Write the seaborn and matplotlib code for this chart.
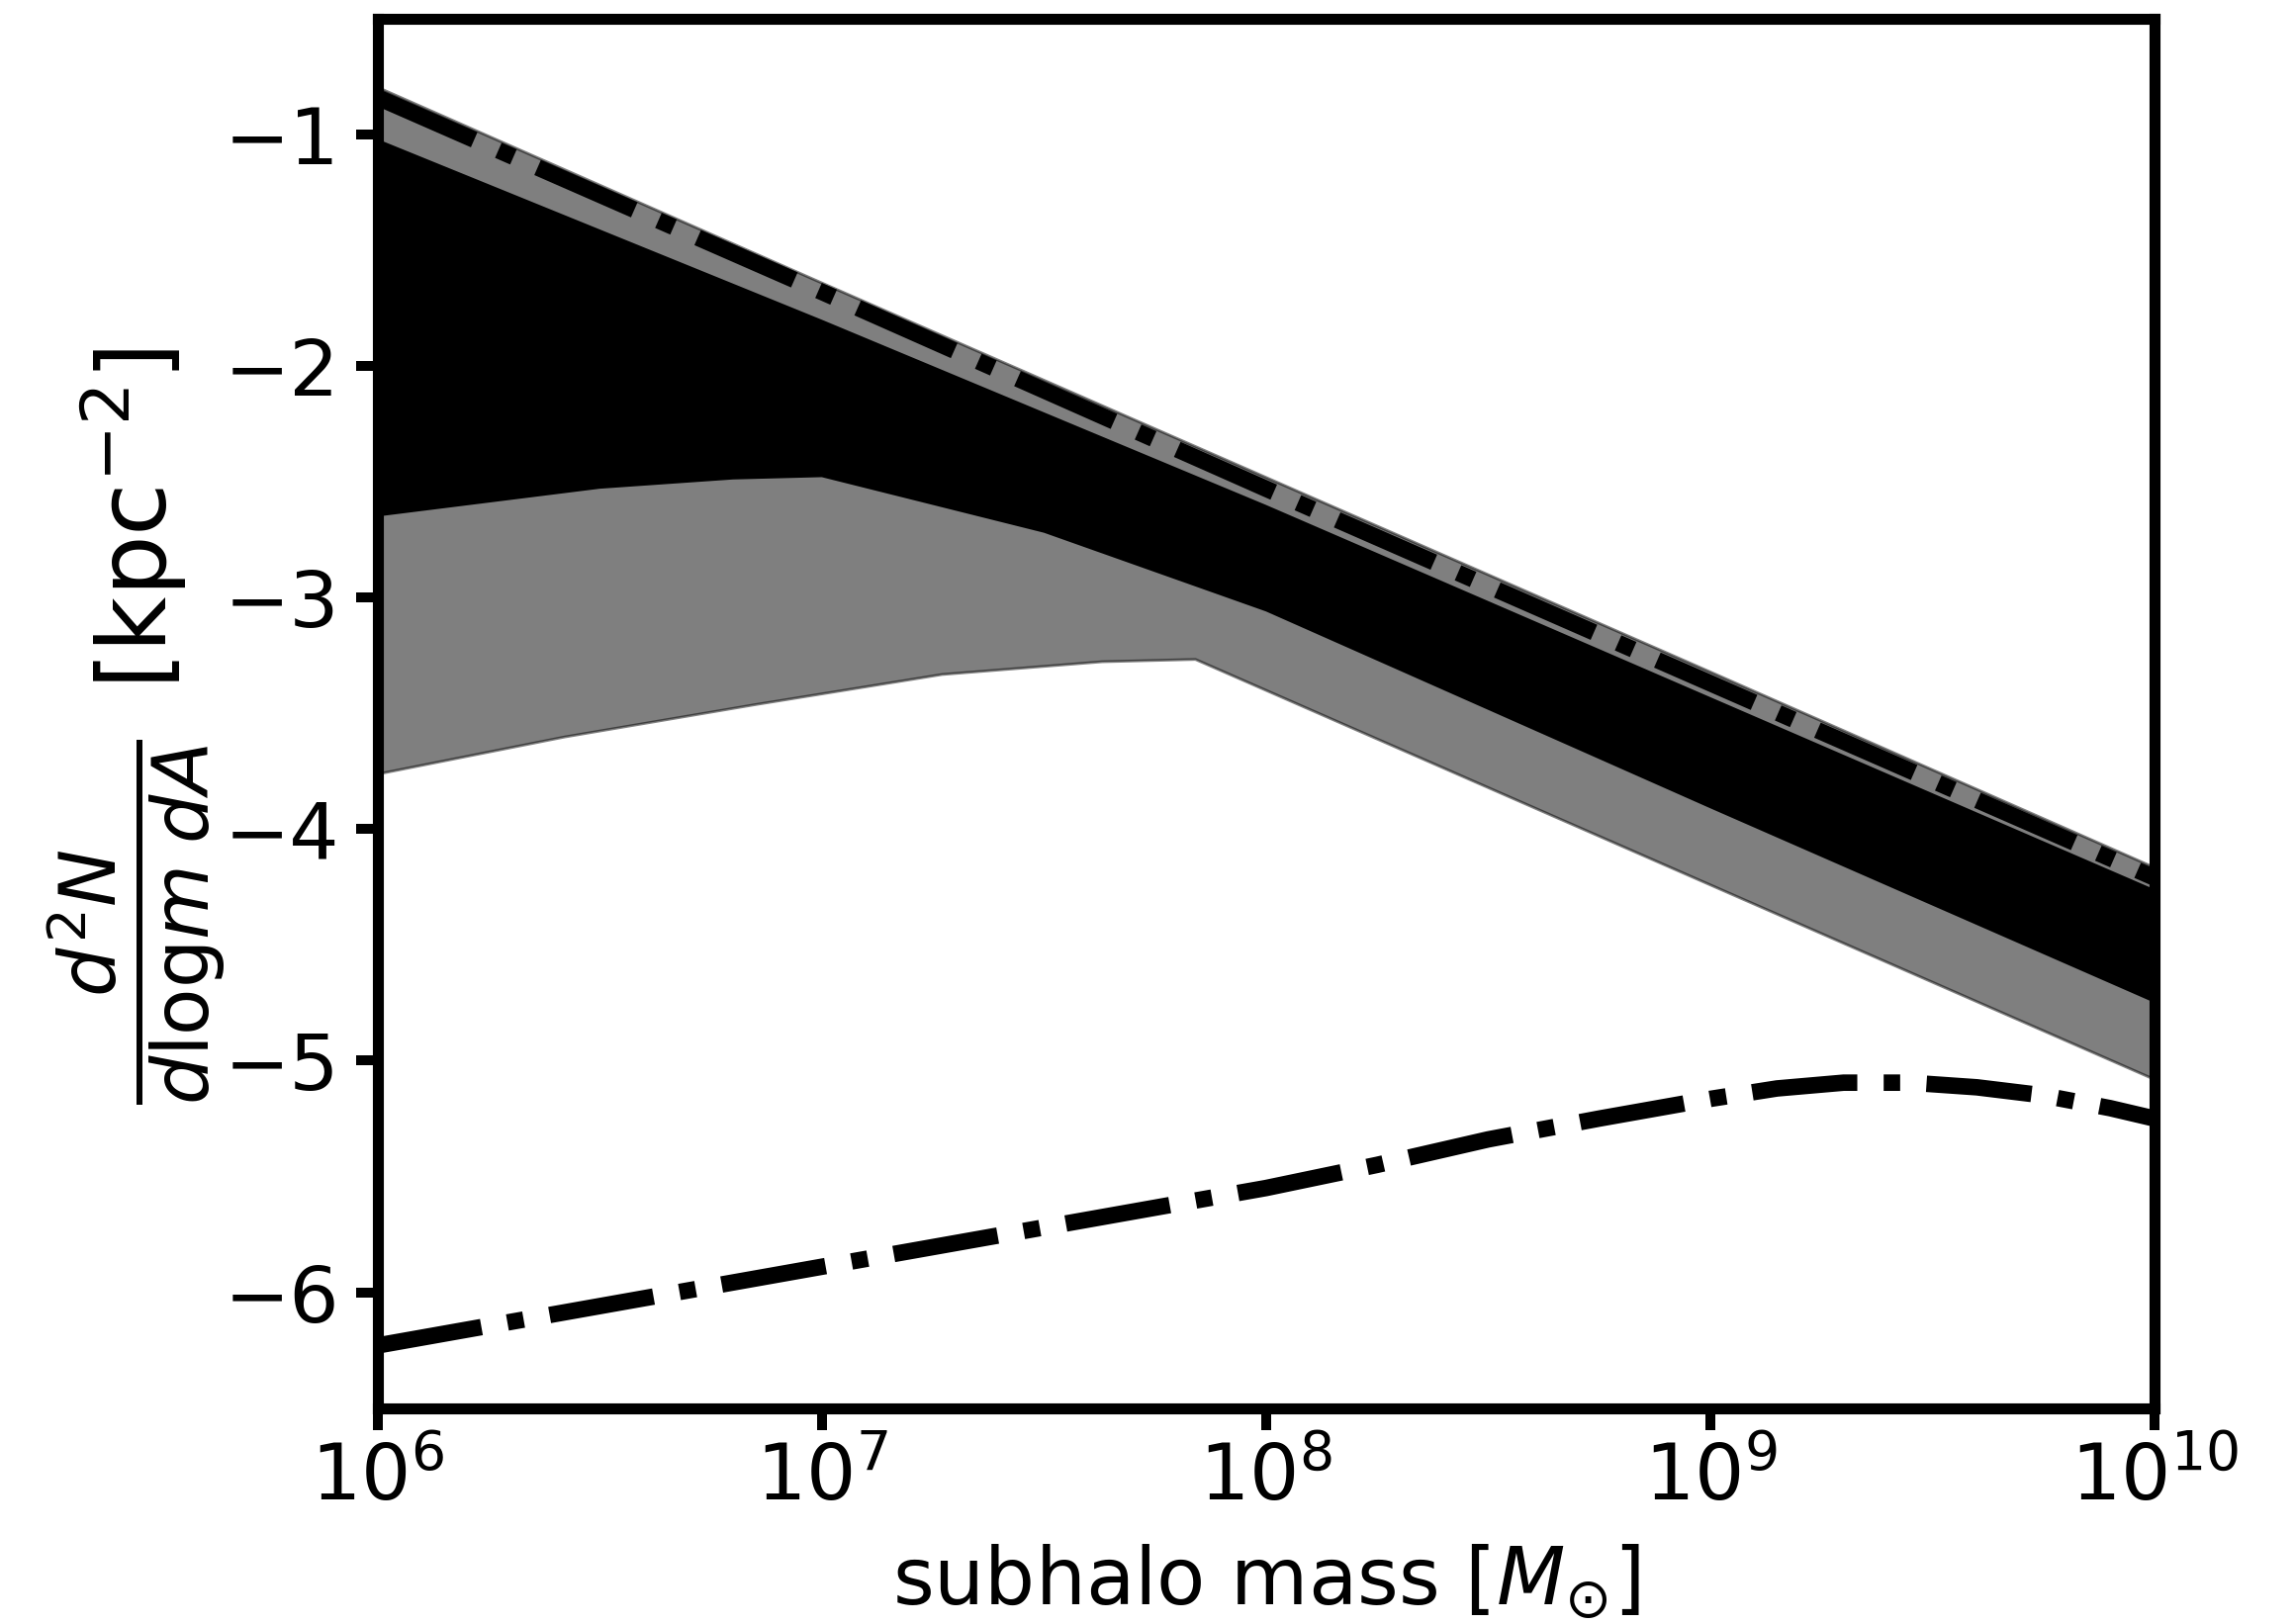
import numpy as np
import pandas as pd
import matplotlib
matplotlib.use("Agg")
import matplotlib.pyplot as plt
import seaborn as sns

# ---- data (log10 subhalo mass, log10 d2N/dlogm dA) ----
logm_top = [6.0, 7.0, 8.0, 9.0, 10.0]
top_line = [-0.84, -1.68, -2.53, -3.37, -4.21]          # upper dash-dot line
grey_upper = [-0.795, -1.64, -2.48, -3.32, -4.165]       # outer (grey) band upper edge
black_upper = [-1.02, -1.80, -2.60, -3.43, -4.26]        # inner (black) band upper edge

logm_black_lo = [6.0, 6.5, 6.8, 7.0, 7.5, 8.0, 9.0, 10.0]
black_lower = [-2.65, -2.53, -2.49, -2.48, -2.72, -3.06, -3.91, -4.75]

logm_grey_lo = [6.0, 6.42, 6.85, 7.27, 7.63, 7.84, 10.0]
grey_lower = [-3.76, -3.60, -3.46, -3.33, -3.275, -3.265, -5.08]

logm_bottom = [6.0, 6.5, 7.0, 7.5, 8.0, 8.25, 8.5, 8.75, 9.0, 9.15, 9.3, 9.45, 9.6, 9.75, 9.9, 10.0]
bottom_line = [-6.23, -6.06, -5.89, -5.72, -5.55, -5.45, -5.34, -5.25, -5.165, -5.12, -5.095,
               -5.095, -5.115, -5.15, -5.205, -5.25]

yticks = [-1, -2, -3, -4, -5, -6]
xticks_exp = [6, 7, 8, 9, 10]

sns.set_theme(style="ticks")
plt.rcParams["font.family"] = ["DejaVu Sans"]
plt.rcParams["mathtext.fontset"] = "dejavusans"

BLACK = "#000000"

fig, ax = plt.subplots(figsize=(11.6, 8.21), dpi=200)
fig.subplots_adjust(left=0.1645, right=0.9388, bottom=0.1330, top=0.9885)

def interp_to(src_x, src_y, grid):
    return np.interp(grid, src_x, src_y)

# bands: grey (outer) first, black (inner) on top
grid_g = np.array(sorted(set(logm_top) | set(logm_grey_lo)))
ax.fill_between(10.0 ** grid_g,
                interp_to(logm_grey_lo, grey_lower, grid_g),
                interp_to(logm_top, grey_upper, grid_g),
                facecolor=BLACK, edgecolor=BLACK, alpha=0.5, linewidth=1.0, zorder=1)
grid_b = np.array(sorted(set(logm_top) | set(logm_black_lo)))
ax.fill_between(10.0 ** grid_b,
                interp_to(logm_black_lo, black_lower, grid_b),
                interp_to(logm_top, black_upper, grid_b),
                facecolor=BLACK, edgecolor="none", linewidth=0.0, zorder=2)

df_top = pd.DataFrame({"m": 10.0 ** np.array(logm_top), "v": top_line})
df_bot = pd.DataFrame({"m": 10.0 ** np.array(logm_bottom), "v": bottom_line})
sns.lineplot(data=df_top, x="m", y="v", ax=ax, color=BLACK, linewidth=6.0,
             linestyle="-.", zorder=3)
sns.lineplot(data=df_bot, x="m", y="v", ax=ax, color=BLACK, linewidth=6.0,
             linestyle="-.", zorder=3)

ax.set_xscale("log")
ax.set_xlim(1e6, 1e10)
ax.set_ylim(-6.5, -0.5)
ax.set_xticks([10.0 ** e for e in xticks_exp])
ax.set_xticklabels([r"$10^{%d}$" % e for e in xticks_exp])
ax.xaxis.set_minor_locator(matplotlib.ticker.NullLocator())
ax.set_yticks(yticks)
ax.set_yticklabels(["\u2212%d" % abs(t) for t in yticks])

for s in ax.spines.values():
    s.set_linewidth(4.0)
    s.set_color(BLACK)
ax.tick_params(axis="both", which="major", length=8, width=3.6, color=BLACK,
               labelsize=28.5, labelcolor=BLACK)
ax.tick_params(axis="x", pad=4)
ax.tick_params(axis="y", pad=6)

ax.set_xlabel(r"subhalo mass [$M_{\odot}$]", fontsize=29, color=BLACK, labelpad=10)

# y label: fraction as the axis label, units as a second rotated text beside it
ax.set_ylabel(r"$\frac{d^2N}{d\mathrm{log}m\;dA}$", fontsize=40, color=BLACK)
ax.yaxis.label.set_verticalalignment("center")
ax.yaxis.set_label_coords(-0.136, 0.350)
ax.text(-0.137, 0.640, r"[kpc$^{-2}$]", transform=ax.transAxes, rotation=90,
        ha="center", va="center", rotation_mode="anchor", fontsize=35, color=BLACK)

fig.savefig("out.png", dpi=200, facecolor="white")
